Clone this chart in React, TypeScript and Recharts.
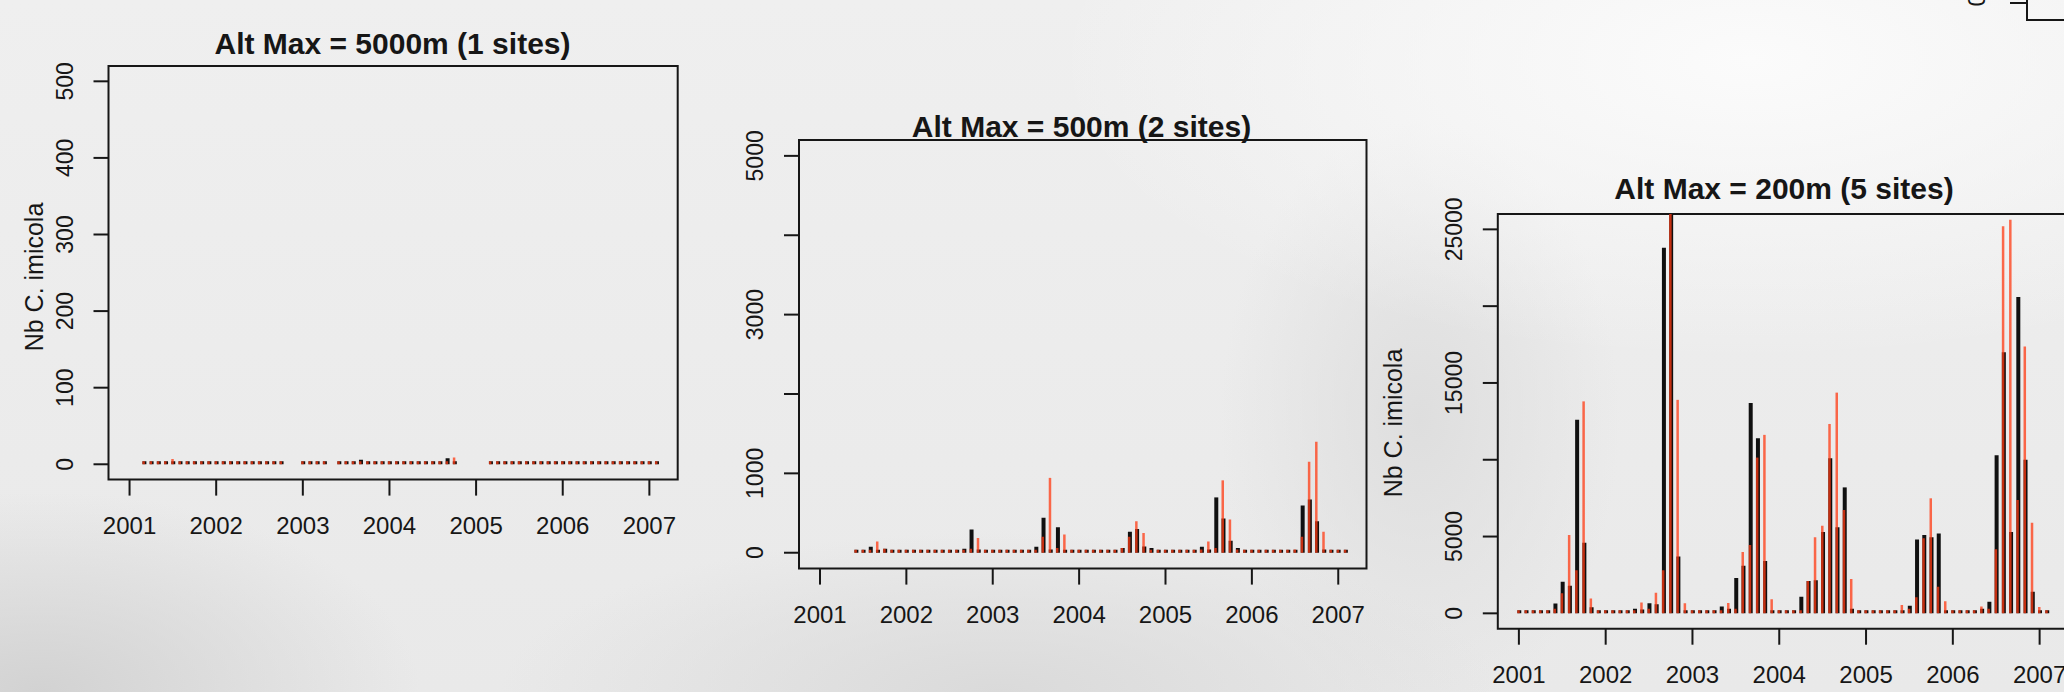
import React from "react";
import { ComposedChart, Bar, XAxis, YAxis, ReferenceArea } from "recharts";

// monthly counts, Jan 2001 .. Feb 2007 (null = no trapping that month)
const years = [2001, 2002, 2003, 2004, 2005, 2006, 2007];
const firstYear = 2001;

// Alt Max = 5000m (1 site)
const obs5000 = [
  null, null, 0, 0, 0, 1, 0, 2, 4, 1, 0, 0,
  0, 0, 0, 0, 1, 0, 0, 0, 1, 0, null, null,
  0, 0, 0, 0, null, 0, 0, 1, 6, 1, 0, 0,
  0, 0, 0, 0, 0, 0, 1, 1, 8, 2, null, null,
  null, null, 0, 0, 0, 0, 0, 0, 0, 0, 0, 0,
  0, 0, 0, 0, 0, 0, 0, 0, 0, 0, 0, 0,
  0, 0,
];
const pred5000 = [
  null, null, 0, 0, 1, 2, 7, 1, 2, 3, 0, 0,
  0, 0, 0, 0, 0, 1, 0, 0, 1, 2, null, null,
  0, 0, 0, 0, null, 0, 0, 2, 1, 3, 0, 0,
  0, 0, 0, 1, 0, 0, 0, 2, 3, 9, null, null,
  null, null, 0, 0, 0, 0, 0, 0, 0, 0, 0, 0,
  0, 0, 0, 0, 0, 0, 0, 0, 0, 0, 0, 0,
  0, 0,
];

// Alt Max = 500m (2 sites)
const obs500 = [
  null, null, null, null, null, 10, 20, 75, 30, 50, 10, 10,
  10, 10, 10, 10, 10, 10, 10, 10, 50, 293, 40, 10,
  10, 10, 10, 10, 10, 10, 75, 440, 40, 320, 20, 10,
  10, 10, 10, 10, 10, 10, 60, 263, 300, 80, 60, 10,
  10, 10, 10, 10, 10, 75, 40, 697, 430, 150, 60, 10,
  10, 10, 10, 10, 10, 10, 30, 594, 670, 396, 40, 10,
  10, 10,
];
const pred500 = [
  null, null, null, null, null, 10, 20, 20, 140, 50, 10, 10,
  10, 10, 10, 10, 10, 10, 10, 10, 30, 50, 185, 10,
  10, 10, 10, 10, 10, 10, 20, 200, 943, 60, 230, 20,
  10, 10, 10, 10, 10, 20, 60, 200, 396, 248, 30, 10,
  10, 10, 10, 10, 10, 40, 140, 60, 912, 419, 40, 10,
  10, 10, 10, 10, 10, 30, 40, 200, 1146, 1397, 263, 20,
  10, 10,
];

// Alt Max = 200m (5 sites)
const obs200 = [
  150, 50, 80, 60, 100, 640, 2050, 1800, 12600, 4600, 400, 150,
  100, 80, 60, 150, 300, 250, 650, 600, 23800, 26500, 3700, 200,
  60, 60, 80, 100, 450, 300, 2300, 3100, 13700, 11400, 3400, 200,
  80, 80, 100, 1080, 2100, 2150, 5300, 10100, 5600, 8200, 300, 150,
  60, 60, 80, 150, 200, 200, 500, 4800, 5100, 4950, 5200, 100,
  80, 80, 100, 200, 300, 750, 10300, 17000, 5300, 20600, 10000, 1400,
  100, 50,
];
const pred200 = [
  0, 50, 50, 40, 80, 300, 1300, 5100, 2800, 13800, 970, 200,
  100, 60, 60, 100, 200, 710, 300, 1340, 2800, 27000, 13900, 650,
  50, 50, 60, 80, 150, 680, 300, 4000, 4450, 10140, 11620, 910,
  60, 60, 80, 100, 2100, 4950, 5700, 12330, 14370, 6730, 2230, 200,
  60, 60, 60, 100, 100, 540, 300, 1050, 4890, 7490, 1730, 780,
  60, 80, 80, 150, 450, 300, 4170, 25200, 25630, 7380, 17370, 5900,
  420, 100,
];

const ink = "#161616";
const font = "'Liberation Sans', Arial, Helvetica, sans-serif";
const xDomain: [number, number] = [2000.757, 2007.327];

const rows = (obs: (number | null)[], pred: (number | null)[]) =>
  obs.map((o, k) => ({ t: firstYear + k / 12, obs: o, pred: pred[k] }));

const dot = (v: any) => (v == null ? 0 : 3);

function XTick({ x, y, payload }: any) {
  return (
    <text x={x} y={y} textAnchor="middle" fontSize={24} fontFamily={font} fill={ink}>
      {payload.value}
    </text>
  );
}

function YTick({ x, y, payload, labels }: any) {
  if (!labels.includes(payload.value)) return <g />;
  return (
    <text
      transform={`translate(${x},${y}) rotate(-90)`}
      textAnchor="middle"
      fontSize={23}
      fontFamily={font}
      fill={ink}
    >
      {payload.value}
    </text>
  );
}

type PanelProps = {
  data: any[];
  left: number;
  top: number;
  width: number;
  height: number;
  box: { l: number; t: number; r: number; b: number };
  yDomain: [number, number];
  yTicks: number[];
  yLabels: number[];
};

function Panel(p: PanelProps) {
  const margin = { top: p.box.t - p.top, right: p.left + p.width - p.box.r, bottom: 0, left: 0 };
  return (
    <div style={{ position: "absolute", left: p.left, top: p.top }}>
      <ComposedChart width={p.width} height={p.height} data={p.data} margin={margin}>
        <XAxis
          xAxisId="a"
          type="number"
          dataKey="t"
          domain={xDomain}
          allowDataOverflow
          ticks={years}
          interval={0}
          height={p.top + p.height - p.box.b}
          axisLine={false}
          tickLine={{ stroke: ink, strokeWidth: 2 }}
          tickSize={16}
          tickMargin={38}
          tick={<XTick />}
        />
        <XAxis xAxisId="b" type="number" dataKey="t" domain={xDomain} allowDataOverflow hide />
        <YAxis
          type="number"
          domain={p.yDomain}
          allowDataOverflow
          ticks={p.yTicks}
          interval={0}
          width={p.box.l - p.left}
          axisLine={false}
          tickLine={{ stroke: ink, strokeWidth: 2 }}
          tickSize={15}
          tickMargin={21}
          tick={(props: any) => <YTick {...props} labels={p.yLabels} />}
        />
        <ReferenceArea
          xAxisId="a"
          x1={xDomain[0]}
          x2={xDomain[1]}
          y1={p.yDomain[0]}
          y2={p.yDomain[1]}
          fill="none"
          stroke={ink}
          strokeWidth={2}
          ifOverflow="visible"
        />
        <Bar xAxisId="a" dataKey="obs" fill="#101010" barSize={4} minPointSize={dot} isAnimationActive={false} />
        <Bar
          xAxisId="b"
          dataKey="pred"
          fill="#ff3a12"
          fillOpacity={0.75}
          barSize={2.5}
          minPointSize={dot}
          isAnimationActive={false}
        />
      </ComposedChart>
    </div>
  );
}

export default function App() {
  return (
    <div
      style={{
        position: "absolute",
        left: 0,
        top: 0,
        width: 2064,
        height: 692,
        overflow: "hidden",
        background:
          "radial-gradient(ellipse 700px 300px at 1750px 60px, #fbfbfb 0%, rgba(251,251,251,0) 100%)," +
          "radial-gradient(ellipse 380px 200px at 40px 692px, #d2d2d2 0%, rgba(210,210,210,0) 100%)," +
          "radial-gradient(ellipse 500px 160px at 1000px 692px, #dadada 0%, rgba(218,218,218,0) 100%)," +
          "radial-gradient(ellipse 200px 300px at 1420px 420px, #dedede 0%, rgba(222,222,222,0) 100%)," +
          "linear-gradient(180deg, #efefef 0%, #e9e9e9 100%)",
      }}
    >
      <Panel
        data={rows(obs5000, pred5000)}
        left={0}
        top={0}
        width={700}
        height={560}
        box={{ l: 108.5, t: 66, r: 677.7, b: 479.6 }}
        yDomain={[-20, 520]}
        yTicks={[0, 100, 200, 300, 400, 500]}
        yLabels={[0, 100, 200, 300, 400, 500]}
      />
      <Panel
        data={rows(obs500, pred500)}
        left={700}
        top={100}
        width={680}
        height={560}
        box={{ l: 799, t: 140, r: 1366.5, b: 568.6 }}
        yDomain={[-200, 5200]}
        yTicks={[0, 1000, 2000, 3000, 4000, 5000]}
        yLabels={[0, 1000, 3000, 5000]}
      />
      <Panel
        data={rows(obs200, pred200)}
        left={1380}
        top={150}
        width={700}
        height={542}
        box={{ l: 1497.8, t: 214, r: 2068, b: 628.7 }}
        yDomain={[-1000, 26000]}
        yTicks={[0, 5000, 10000, 15000, 20000, 25000]}
        yLabels={[0, 5000, 15000, 25000]}
      />
      <svg
        width={2064}
        height={692}
        style={{ position: "absolute", left: 0, top: 0, pointerEvents: "none" }}
        fontFamily={font}
        fill={ink}
      >
        <text x={392.5} y={53.5} textAnchor="middle" fontSize={30} fontWeight="bold">
          Alt Max = 5000m (1 sites)
        </text>
        <text x={1081.5} y={137} textAnchor="middle" fontSize={30} fontWeight="bold">
          Alt Max = 500m (2 sites)
        </text>
        <text x={1784} y={198.5} textAnchor="middle" fontSize={30} fontWeight="bold">
          Alt Max = 200m (5 sites)
        </text>
        <text transform="translate(42.5,277) rotate(-90)" textAnchor="middle" fontSize={25}>
          Nb C. imicola
        </text>
        <text transform="translate(1402,423) rotate(-90)" textAnchor="middle" fontSize={25}>
          Nb C. imicola
        </text>
        <text transform="translate(1985,0) rotate(-90)" textAnchor="middle" fontSize={23}>
          0
        </text>
        <path d="M2010 3 H2027 M2027 -2 V20 H2070" stroke={ink} strokeWidth={2} fill="none" />
      </svg>
    </div>
  );
}
